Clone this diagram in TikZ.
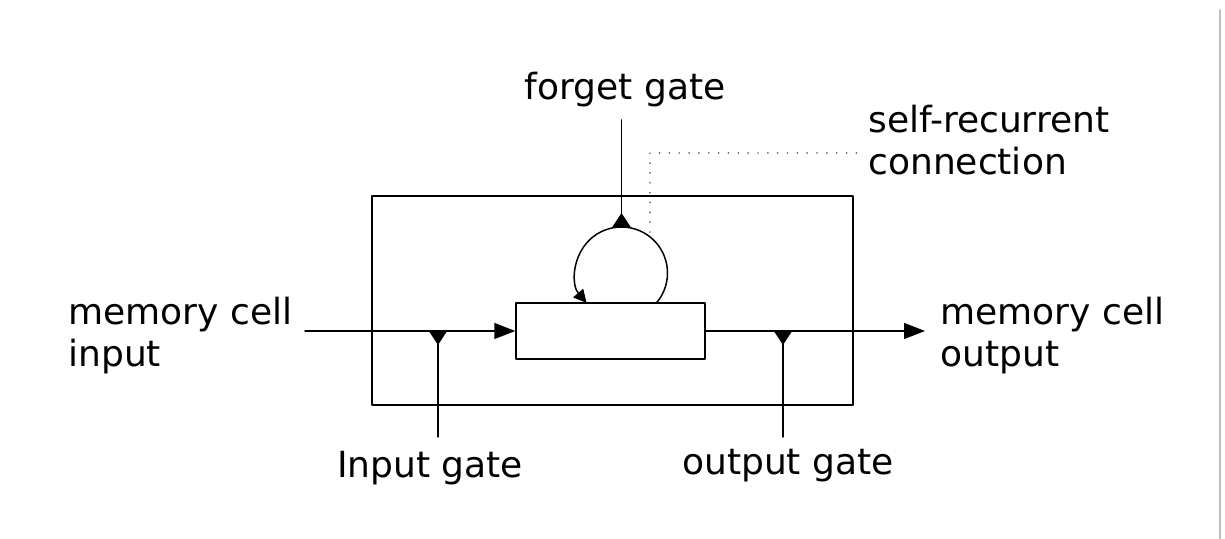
\documentclass[tikz,border=0pt]{standalone}
\usepackage{fontspec}
\setmainfont{DejaVu Sans}
\usetikzlibrary{arrows.meta,calc}

\begin{document}
\begin{tikzpicture}[x=1cm,y=1cm,line cap=round,line join=round,
  >={Triangle[length=0.42cm,width=0.32cm]},
  every node/.style={font=\fontsize{20.5}{24}\selectfont},
  gate/.style={line width=0.85pt,-{Triangle[reversed,length=0.28cm,width=0.36cm]}},
  wire/.style={line width=0.85pt,->},
  lbl/.style={align=left,anchor=west,inner sep=0pt}]
  \useasboundingbox (0,0) rectangle (24.5,10.78);
  % right edge rule
  \draw[line width=1.2pt,black!25] (24.40,0) -- (24.40,10.58);
  % blocks
  \node[draw,line width=0.85pt,minimum width=9.62cm,minimum height=4.18cm,inner sep=0pt]
    (block) at (12.25,4.77) {};
  \node[draw,line width=0.85pt,minimum width=3.78cm,minimum height=1.12cm,inner sep=0pt]
    (cell) at (12.21,4.16) {};
  % labels
  \node[lbl] (inlbl) at (1.36,4.07) {memory cell\\input};
  \node[lbl] (outlbl) at (18.80,4.07) {memory cell\\output};
  \node[lbl] (selflbl) at (17.36,7.98) {self-recurrent\\connection};
  \node[inner sep=0pt] (fglbl) at (12.50,8.98) {forget gate};
  \node[inner sep=0pt] (iglbl) at (8.60,1.42) {Input gate};
  \node[inner sep=0pt] (oglbl) at (15.76,1.46) {output gate};
  % points on the wires
  \coordinate (inS) at (6.10,4.16);
  \coordinate (outE) at (18.50,4.16);
  \coordinate (igc) at (8.76,4.16);
  \coordinate (igb) at (8.76,2.04);
  \coordinate (ogc) at (15.66,4.16);
  \coordinate (ogb) at (15.66,2.04);
  \coordinate (fgt) at (12.43,8.38);
  \coordinate (loopC) at (12.43,5.32);
  \coordinate (loopR) at ($(loopC)+(-40.6:0.92)$);
  % main path
  \draw[wire] (inS) -- (cell.west);
  \draw[wire] (cell.east) -- (outE);
  % gates
  \draw[gate] (igb) -- (igc);
  \draw[gate] (ogb) -- (ogc);
  \draw[gate] (fgt) -- ($(loopC)+(0,0.92)$);
  % self loop
  \draw[line width=0.85pt,-{Triangle[length=0.26cm,width=0.26cm]}]
    (loopR) arc[start angle=-40.6,end angle=220.6,radius=0.92];
  % pointer to the loop
  \draw[line width=1.1pt,black!60,dash pattern=on 0pt off 5.6pt]
    (13.00,6.14) -- (13.00,7.72) -- (17.14,7.72);
\end{tikzpicture}
\end{document}
